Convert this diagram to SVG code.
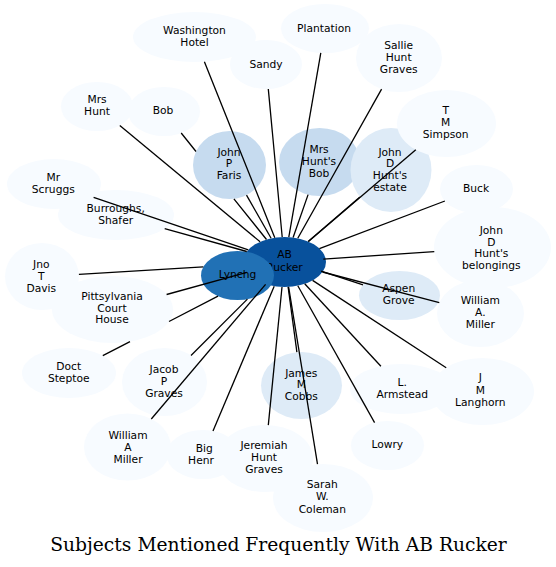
<svg xmlns="http://www.w3.org/2000/svg" width="556" height="567" viewBox="0 0 556 567">
<style>
.n0{fill:#f7fbff}
.n1{fill:#deebf7}
.n2{fill:#c6dbef}
.n3{fill:#2171b5}
.n4{fill:#08519c}
text{font-family:"DejaVu Sans","Liberation Sans",sans-serif;font-size:10.7px;fill:#000;text-anchor:middle}
.title{font-family:"DejaVu Serif","Liberation Serif",serif;font-size:18.7px}
#edges path{fill:none;stroke:#000;stroke-width:1.3}
</style>
<rect width="556" height="567" fill="#fff"/>
<g id="nodes">
<g id="ab-rucker"><ellipse class="n4" cx="284.5" cy="262" rx="41.5" ry="25"/><text><tspan x="284.5" y="258.3">AB</tspan><tspan x="284.5" y="270.7">Rucker</tspan></text></g>
<g id="lynchg"><ellipse class="n3" cx="237.5" cy="275.5" rx="36.5" ry="24.5"/><text x="237.5" y="278">Lynchg</text></g>
<g id="washington-hotel"><ellipse class="n0" cx="194.5" cy="37" rx="61.5" ry="25"/><text><tspan x="194.5" y="34">Washington</tspan><tspan x="194.5" y="46">Hotel</tspan></text></g>
<g id="sandy"><ellipse class="n0" cx="266" cy="64.5" rx="36" ry="24.5"/><text x="266" y="68">Sandy</text></g>
<g id="plantation"><ellipse class="n0" cx="325" cy="28.5" rx="44" ry="24.5"/><text x="324" y="32">Plantation</text></g>
<g id="sallie-hunt-graves"><ellipse class="n0" cx="399" cy="58" rx="43" ry="34"/><text><tspan x="398.7" y="49">Sallie</tspan><tspan x="398.7" y="61">Hunt</tspan><tspan x="398.7" y="73">Graves</tspan></text></g>
<g id="mrs-hunts-bob"><ellipse class="n2" cx="319.5" cy="162" rx="40.5" ry="34"/><text><tspan x="319" y="153">Mrs</tspan><tspan x="319" y="165">Hunt's</tspan><tspan x="319" y="177">Bob</tspan></text></g>
<g id="john-d-hunts-estate"><ellipse class="n1" cx="391" cy="170" rx="40.5" ry="42"/><text><tspan x="390" y="155.5">John</tspan><tspan x="390" y="167.3">D</tspan><tspan x="390" y="179">Hunt's</tspan><tspan x="390" y="191">estate</tspan></text></g>
<g id="t-m-simpson"><ellipse class="n0" cx="446.5" cy="123.5" rx="49.5" ry="33.5"/><text><tspan x="445.7" y="114">T</tspan><tspan x="445.7" y="126">M</tspan><tspan x="445.7" y="138">Simpson</tspan></text></g>
<g id="buck"><ellipse class="n0" cx="476.5" cy="189" rx="36.5" ry="24"/><text x="476" y="192">Buck</text></g>
<g id="john-d-hunts-belongings"><ellipse class="n0" cx="492.5" cy="247.5" rx="58.5" ry="40.5"/><text><tspan x="491.3" y="234">John</tspan><tspan x="491.3" y="245.7">D</tspan><tspan x="491.3" y="257.3">Hunt's</tspan><tspan x="491.3" y="269">belongings</tspan></text></g>
<g id="john-p-faris"><ellipse class="n2" cx="229.5" cy="165" rx="36.5" ry="34"/><text><tspan x="229" y="155.5">John</tspan><tspan x="229" y="167.3">P</tspan><tspan x="229" y="179">Faris</tspan></text></g>
<g id="mrs-hunt"><ellipse class="n0" cx="97" cy="106.5" rx="36" ry="24.5"/><text><tspan x="97" y="103">Mrs</tspan><tspan x="97" y="115">Hunt</tspan></text></g>
<g id="bob"><ellipse class="n0" cx="164" cy="111.5" rx="36" ry="24.5"/><text x="163" y="114">Bob</text></g>
<g id="mr-scruggs"><ellipse class="n0" cx="54" cy="184" rx="47" ry="25"/><text><tspan x="53.3" y="181">Mr</tspan><tspan x="53.3" y="193">Scruggs</tspan></text></g>
<g id="burroughs-shafer"><ellipse class="n0" cx="116" cy="215" rx="58" ry="25"/><text><tspan x="115.7" y="211.5">Burroughs,</tspan><tspan x="115.7" y="223.5">Shafer</tspan></text></g>
<g id="jno-t-davis"><ellipse class="n0" cx="42" cy="276.5" rx="37" ry="33.5"/><text><tspan x="41.3" y="267.5">Jno</tspan><tspan x="41.3" y="279.5">T</tspan><tspan x="41.3" y="291.5">Davis</tspan></text></g>
<g id="pittsylvania-court-house"><ellipse class="n0" cx="112.5" cy="309.5" rx="60.5" ry="33.5"/><text><tspan x="112" y="300">Pittsylvania</tspan><tspan x="112" y="311.7">Court</tspan><tspan x="112" y="323.3">House</tspan></text></g>
<g id="doct-steptoe"><ellipse class="n0" cx="69" cy="373" rx="47" ry="25"/><text><tspan x="68.7" y="370">Doct</tspan><tspan x="68.7" y="381.7">Steptoe</tspan></text></g>
<g id="jacob-p-graves"><ellipse class="n0" cx="164.5" cy="382" rx="42.5" ry="34"/><text><tspan x="164" y="373.3">Jacob</tspan><tspan x="164" y="385">P</tspan><tspan x="164" y="397.3">Graves</tspan></text></g>
<g id="william-a-miller-left"><ellipse class="n0" cx="127.5" cy="447" rx="43.5" ry="33.5"/><text><tspan x="128" y="439">William</tspan><tspan x="128" y="451.3">A</tspan><tspan x="128" y="463.3">Miller</tspan></text></g>
<g id="big-henr"><ellipse class="n0" cx="203" cy="454.5" rx="36.5" ry="24.5"/><text><tspan x="204.3" y="452.3">Big</tspan><tspan x="201" y="464">Henr</tspan></text></g>
<g id="jeremiah-hunt-graves"><ellipse class="n0" cx="265" cy="458.5" rx="48" ry="33.5"/><text><tspan x="264" y="449">Jeremiah</tspan><tspan x="264" y="461">Hunt</tspan><tspan x="264" y="473.3">Graves</tspan></text></g>
<g id="sarah-w-coleman"><ellipse class="n0" cx="323" cy="498" rx="50" ry="34"/><text><tspan x="322.3" y="488.3">Sarah</tspan><tspan x="322.3" y="500.3">W.</tspan><tspan x="322.3" y="512.7">Coleman</tspan></text></g>
<g id="james-m-cobbs"><ellipse class="n1" cx="301.5" cy="385.5" rx="40.5" ry="33.5"/><text><tspan x="301.3" y="376.5">James</tspan><tspan x="301.3" y="388.3">M</tspan><tspan x="301.3" y="400">Cobbs</tspan></text></g>
<g id="lowry"><ellipse class="n0" cx="387.5" cy="445.5" rx="36.5" ry="24.5"/><text x="387.3" y="448">Lowry</text></g>
<g id="l-armstead"><ellipse class="n0" cx="401" cy="389" rx="51" ry="25"/><text><tspan x="402.3" y="386">L.</tspan><tspan x="402.3" y="398">Armstead</tspan></text></g>
<g id="j-m-langhorn"><ellipse class="n0" cx="482.5" cy="391.5" rx="51.5" ry="33.5"/><text><tspan x="480.3" y="381">J</tspan><tspan x="480.3" y="393.7">M</tspan><tspan x="480.3" y="406">Langhorn</tspan></text></g>
<g id="william-a-miller-right"><ellipse class="n0" cx="480.5" cy="313.5" rx="43.5" ry="33.5"/><text><tspan x="480.3" y="304">William</tspan><tspan x="480.3" y="315.7">A.</tspan><tspan x="480.3" y="328">Miller</tspan></text></g>
<g id="aspen-grove"><ellipse class="n1" cx="399.5" cy="295.5" rx="40.5" ry="24.5"/><text><tspan x="398.7" y="292.3">Aspen</tspan><tspan x="398.7" y="304">Grove</tspan></text></g>
</g>
<g id="edges">
<path d="M204.4,61.7L274.8,237.7"/>
<path d="M268.3,89L282.2,237"/>
<path d="M320.8,52.9L288.8,237.1"/>
<path d="M381.6,89.1L297.8,238.3"/>
<path d="M308.1,194.6L293.1,237.5"/>
<path d="M246.5,195.1L271.1,238.3"/>
<path d="M181.2,133L196,151.5M233.9,198.8L266.5,239.5"/>
<path d="M119.8,125.4L260.1,241.8"/>
<path d="M93.6,197.4L248.3,249.8"/>
<path d="M164.7,228.6L246.8,251.5"/>
<path d="M78.9,274.3L203.3,266.9"/>
<path d="M166.6,294.5L246.8,272.4"/>
<path d="M102.8,355.6L130,341.6M169,321.5L218,296.2"/>
<path d="M191,355.5L247.4,299.1"/>
<path d="M151.3,419L265.6,284.3"/>
<path d="M213,430.9L274.2,286.2"/>
<path d="M268.3,425.1L282,287"/>
<path d="M317.5,464.2L288.6,286.9"/>
<path d="M296.9,352.2L288.1,286.9"/>
<path d="M374.6,422.6L297.8,285.7"/>
<path d="M380.9,366.2L304.7,283.8"/>
<path d="M446.2,367.7L312.6,280.4"/>
<path d="M439.3,302.7L322.5,272"/>
<path d="M363,284.9L321.1,271.1"/>
<path d="M434.3,251.6L323.3,259.1"/>
<path d="M444.9,201L319.4,248.7"/>
<path d="M415.8,149.8L308.4,241.6"/>
<path d="M359.9,196.9L308.2,241.5"/>
</g>
<text class="title" x="278.5" y="551">Subjects Mentioned Frequently With AB Rucker</text>
</svg>
